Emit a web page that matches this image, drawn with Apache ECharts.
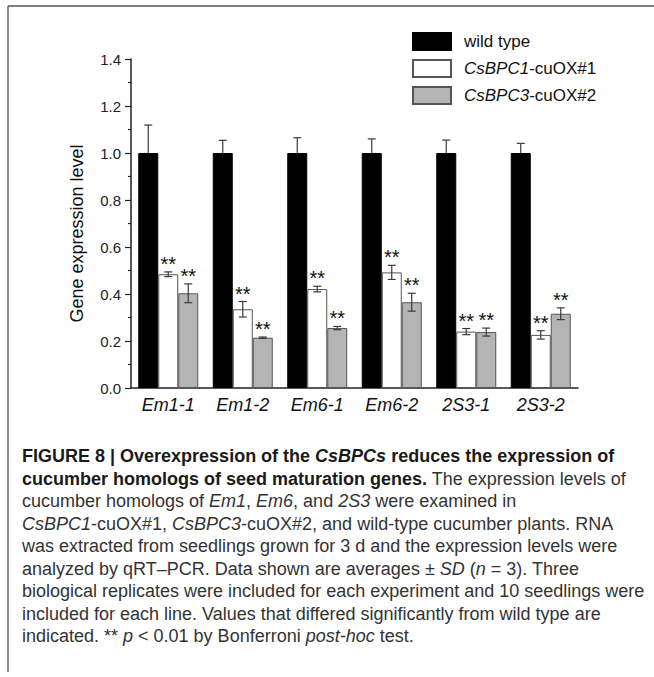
<!DOCTYPE html>
<html>
<head>
<meta charset="utf-8">
<script src="https://cdn.jsdelivr.net/npm/echarts@6/dist/echarts.min.js"></script>
<style>
  html, body { margin: 0; padding: 0; background: #fff; }
  #chart { width: 654px; height: 677px; }
</style>
</head>
<body>
<div id="chart"></div>
<script>
// Relative expression of seed maturation gene homologs (mean ± SD, n = 3)
const categories = ['Em1-1', 'Em1-2', 'Em6-1', 'Em6-2', '2S3-1', '2S3-2'];

const wildType   = [1.0, 1.0, 1.0, 1.0, 1.0, 1.0];
const wildTypeSD = [0.119, 0.054, 0.065, 0.060, 0.055, 0.041];

const ox1   = [0.484, 0.335, 0.421, 0.492, 0.240, 0.226];
const ox1SD = [0.010, 0.033, 0.012, 0.030, 0.013, 0.018];
const ox1Sig = ['**', '**', '**', '**', '**', '**'];

const ox3   = [0.403, 0.214, 0.255, 0.365, 0.238, 0.316];
const ox3SD = [0.040, 0.003, 0.007, 0.038, 0.017, 0.025];
const ox3Sig = ['**', '**', '**', '**', '**', '**'];

const wildTypeSig = ['', '', '', '', '', ''];

const yTicks = { min: 0, max: 1.4, interval: 0.2 };

const seriesNames = ['wild type', 'CsBPC1-cuOX#1', 'CsBPC3-cuOX#2'];

// Caption lines: [style, text] runs (b = bold, bi = bold italic, r = regular, i = italic)
const captionLines = [
  [['b', 'FIGURE 8 | Overexpression of the '], ['bi', 'CsBPCs'], ['b', ' reduces the expression of']],
  [['b', 'cucumber homologs of seed maturation genes.'], ['r', ' The expression levels of']],
  [['r', 'cucumber homologs of '], ['i', 'Em1'], ['r', ', '], ['i', 'Em6'], ['r', ', and '], ['i', '2S3'], ['r', ' were examined in']],
  [['i', 'CsBPC1'], ['r', '-cuOX#1, '], ['i', 'CsBPC3'], ['r', '-cuOX#2, and wild-type cucumber plants. RNA']],
  [['r', 'was extracted from seedlings grown for 3 d and the expression levels were']],
  [['r', 'analyzed by qRT–PCR. Data shown are averages ± '], ['i', 'SD'], ['r', ' ('], ['i', 'n'], ['r', ' = 3). Three']],
  [['r', 'biological replicates were included for each experiment and 10 seedlings were']],
  [['r', 'included for each line. Values that differed significantly from wild type are']],
  [['r', 'indicated. ** '], ['i', 'p'], ['r', ' < 0.01 by Bonferroni '], ['i', 'post-hoc'], ['r', ' test.']]
];

// ---- layout / style ----
const FONT = '"Liberation Sans", Arial, Helvetica, sans-serif';
const BAR_W = 20;
const AXIS_COLOR = '#222';
const ERR_COLOR = '#3a3a3a';
const colors = ['#000000', '#ffffff', '#b4b4b4'];

const chart = echarts.init(document.getElementById('chart'), null, { renderer: 'svg' });

// Error bars (and significance marks) for one bar series; k = position within the group
function errorSeries(k, values, sds, sigs, z) {
  const offset = (k - 1) * BAR_W;
  return {
    type: 'custom',
    name: seriesNames[k] + ' error',
    z: z,
    clip: false,
    silent: true,
    data: categories.map((c, i) => [i, values[i], sds[i]]),
    renderItem: function (params, api) {
      const i = api.value(0);
      const v = api.value(1);
      const sd = api.value(2);
      const mid = api.coord([i, v]);
      const top = api.coord([i, v + sd]);
      const bot = api.coord([i, v - sd]);
      const x = mid[0] + offset;
      const cap = 4;
      const lineStyle = { stroke: ERR_COLOR, lineWidth: 1.2 };
      const children = [
        { type: 'line', shape: { x1: x, y1: top[1], x2: x, y2: bot[1] }, style: lineStyle },
        { type: 'line', shape: { x1: x - cap, y1: top[1], x2: x + cap, y2: top[1] }, style: lineStyle },
        { type: 'line', shape: { x1: x - cap, y1: bot[1], x2: x + cap, y2: bot[1] }, style: lineStyle }
      ];
      const sig = sigs[params.dataIndex];
      if (sig) {
        children.push({
          type: 'text',
          style: {
            text: sig, x: x, y: top[1] - 8,
            align: 'center', verticalAlign: 'middle',
            fontSize: 20, fontFamily: FONT, fill: '#111'
          }
        });
      }
      return { type: 'group', children: children };
    }
  };
}

const graphics = [
  { type: 'line', shape: { x1: 8, y1: 6, x2: 654, y2: 6 }, style: { stroke: '#555', lineWidth: 1.5 } },
  { type: 'line', shape: { x1: 8, y1: 6, x2: 8, y2: 672 }, style: { stroke: '#666', lineWidth: 1.5 } }
];

const captionRich = {
  b:  { fontFamily: FONT, fontSize: 18, fontWeight: 'bold', fill: '#1a1a1a' },
  bi: { fontFamily: FONT, fontSize: 18, fontWeight: 'bold', fontStyle: 'italic', fill: '#1a1a1a' },
  r:  { fontFamily: FONT, fontSize: 18, fill: '#333' },
  i:  { fontFamily: FONT, fontSize: 18, fontStyle: 'italic', fill: '#333' }
};
captionLines.forEach(function (runs, li) {
  graphics.push({
    type: 'text',
    left: 22,
    top: 447 + li * 22.5,
    style: {
      text: runs.map(r => '{' + r[0] + '|' + r[1] + '}').join(''),
      rich: captionRich,
      fontFamily: FONT, fontSize: 18
    }
  });
});

const option = {
  backgroundColor: '#fff',
  animation: false,
  textStyle: { fontFamily: FONT },
  grid: { left: 131, right: 76, top: 59, bottom: 289, containLabel: false },
  legend: {
    data: seriesNames,
    orient: 'vertical',
    left: 407,
    top: 27,
    itemWidth: 38,
    itemHeight: 17,
    itemGap: 8,
    icon: 'rect',
    selectedMode: false,
    formatter: function (name) {
      const m = name.match(/^(CsBPC\d)(.*)$/);
      return m ? '{i|' + m[1] + '}{n|' + m[2] + '}' : '{n|' + name + '}';
    },
    textStyle: {
      padding: [0, 0, 0, 8],
      rich: {
        i: { fontFamily: FONT, fontSize: 17, fontStyle: 'italic', color: '#111' },
        n: { fontFamily: FONT, fontSize: 17, color: '#111' }
      }
    }
  },
  xAxis: {
    type: 'category',
    data: categories,
    axisLine: { lineStyle: { color: AXIS_COLOR, width: 1.5 } },
    axisTick: { alignWithLabel: true, length: 5, lineStyle: { color: AXIS_COLOR, width: 1.2 } },
    axisLabel: { fontSize: 18, fontStyle: 'italic', color: '#111', margin: 8, fontFamily: FONT },
    splitLine: { show: false }
  },
  yAxis: {
    type: 'value',
    min: yTicks.min,
    max: yTicks.max,
    interval: yTicks.interval,
    name: 'Gene expression level',
    nameLocation: 'middle',
    nameGap: 45,
    nameRotate: 90,
    nameTextStyle: { fontSize: 18, color: '#111', fontFamily: FONT, padding: [0, 20, 0, 0] },
    axisLine: { show: true, lineStyle: { color: AXIS_COLOR, width: 1.5 } },
    axisTick: { show: true, length: 6, lineStyle: { color: AXIS_COLOR, width: 1.2 } },
    minorTick: { show: true, splitNumber: 2, length: 3, lineStyle: { color: AXIS_COLOR, width: 1.2 } },
    axisLabel: {
      fontSize: 15, color: '#222', margin: 10, fontFamily: FONT,
      formatter: v => v.toFixed(1)
    },
    splitLine: { show: false }
  },
  series: [
    {
      name: seriesNames[0], type: 'bar', data: wildType, barWidth: BAR_W, barGap: '0%', z: 3,
      itemStyle: { color: colors[0], borderColor: '#000', borderWidth: 1 }
    },
    {
      name: seriesNames[1], type: 'bar', data: ox1, barWidth: BAR_W, barGap: '0%', z: 3,
      itemStyle: { color: colors[1], borderColor: '#555', borderWidth: 1 }
    },
    {
      name: seriesNames[2], type: 'bar', data: ox3, barWidth: BAR_W, barGap: '0%', z: 3,
      itemStyle: { color: colors[2], borderColor: '#555', borderWidth: 1 }
    },
    // wild-type whiskers sit behind their solid bars, so only the upper half shows
    errorSeries(0, wildType, wildTypeSD, wildTypeSig, 1),
    errorSeries(1, ox1, ox1SD, ox1Sig, 5),
    errorSeries(2, ox3, ox3SD, ox3Sig, 5)
  ],
  graphic: graphics
};

chart.setOption(option);
</script>
</body>
</html>
